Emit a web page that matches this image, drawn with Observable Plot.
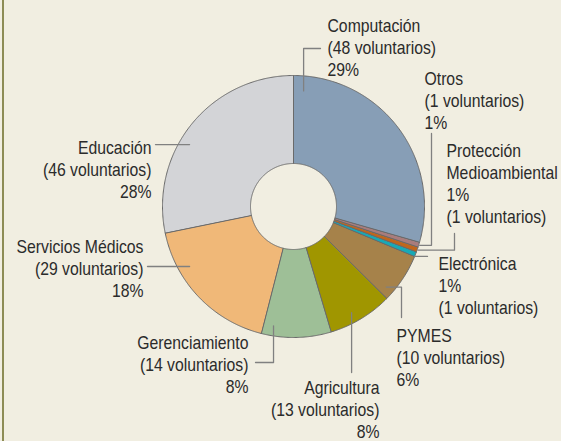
<!DOCTYPE html>
<html><head><meta charset="utf-8">
<script src="https://cdn.jsdelivr.net/npm/d3@7"></script>
<script src="https://cdn.jsdelivr.net/npm/@observablehq/plot@0.6"></script>
<style>
html,body{margin:0;padding:0;background:#f1eee1;}
#wrap{position:relative;width:561px;height:441px;overflow:hidden;background:#f1eee1;}
#rule{position:absolute;left:2px;top:0;width:2px;height:441px;background:#8d8c55;}
#wrap svg{position:absolute;left:0;top:0;}
</style></head><body><div id="wrap"><div id="rule"></div></div>
<script>
// ---- data ----
const categories = ["Computación","Otros","Protección Medioambiental","Electrónica","PYMES","Agricultura","Gerenciamiento","Servicios Médicos","Educación"];
const volunteers = [48, 1, 1, 1, 10, 13, 14, 29, 46];
const percentLabels = ["29%","1%","1%","1%","6%","8%","8%","18%","28%"];

// ---- styles ----
const palette = ["#879eb6","#a97c7c","#c0661c","#17a9b6","#a6824a","#a09600","#9ebf97","#f0b878","#d3d4d7"];
const FONT = "'Liberation Sans',Arimo,Arial,sans-serif";
const FS = 19;
const NARROW = 0.83; // condensed look

// ---- layout ----
const W = 561, H = 441;
const cx = 293, cy = 206, R = 131, R0 = 43;
const layout = {
  "Computación":              {a: 5,    rho: 116, path: [{y: 48}, {x: 320}], anchor: "start", x: 327, y: 75,  lines: "ncp"},
  "Otros":                    {a: null, rho: 132, path: [{x: 431}, {y: 133}], anchor: "start", x: 424, y: 128, lines: "ncp"},
  "Protección Medioambiental":{a: null, rho: 132, path: [{x: 454}, {y: 233}], anchor: "start", x: 446, y: 222, lines: "npc"},
  "Electrónica":              {a: 112.4,rho: 131, path: [{x: 427}],           anchor: "start", x: 438, y: 313, lines: "npc"},
  "PYMES":                    {a: 131,  rho: 123, path: [{x: 401}, {y: 317}], anchor: "start", x: 396, y: 385, lines: "ncp"},
  "Agricultura":              {a: 151.3,rho: 121, path: [{y: 372}],           anchor: "end",   x: 379, y: 437, lines: "ncp"},
  "Gerenciamiento":           {a: 189.5,rho: 121, path: [{y: 362}, {x: 255}], anchor: "end",   x: 248, y: 392, lines: "ncp"},
  "Servicios Médicos":        {a: 240,  rho: 120, path: [{x: 147}],           anchor: "end",   x: 143, y: 296, lines: "ncp"},
  "Educación":                {a: 300.8,rho: 121, path: [{x: 155}],           anchor: "end",   x: 151, y: 197, lines: "ncp"}
};

const pie = d3.pie().sort(null).value(d => d.v).startAngle(0).endAngle(2 * Math.PI);
const arcs = pie(categories.map((name, i) => ({name, v: volunteers[i], pct: percentLabels[i]})));
const pt = (theta, rho) => [cx + rho * Math.sin(theta), cy - rho * Math.cos(theta)];

// slice polygons
const sliceRows = [];
for (const a of arcs) {
  const n = Math.max(2, Math.ceil((a.endAngle - a.startAngle) / (Math.PI / 360)));
  for (let k = 0; k <= n; k++) {
    const t = a.startAngle + (a.endAngle - a.startAngle) * k / n;
    const [x, y] = pt(t, R);
    sliceRows.push({name: a.data.name, x, y});
  }
  for (let k = n; k >= 0; k--) {
    const t = a.startAngle + (a.endAngle - a.startAngle) * k / n;
    const [x, y] = pt(t, R0);
    sliceRows.push({name: a.data.name, x, y});
  }
}

// leader lines and labels
const leaderRows = [];
const labelRows = [];
for (const a of arcs) {
  const L = layout[a.data.name];
  const theta = L.a == null ? (a.startAngle + a.endAngle) / 2 : L.a * Math.PI / 180;
  let [x, y] = pt(theta, L.rho);
  leaderRows.push({name: a.data.name, x, y});
  for (const step of L.path) {
    if (step.x != null) x = step.x;
    if (step.y != null) y = step.y;
    leaderRows.push({name: a.data.name, x, y});
  }
  const nameText = a.data.name === "Protección Medioambiental" ? "Protección\nMedioambiental" : a.data.name;
  const countText = `(${a.data.v} voluntarios)`;
  const text = L.lines === "ncp" ? [nameText, countText, a.data.pct].join("\n") : [nameText, a.data.pct, countText].join("\n");
  labelRows.push({name: a.data.name, x: L.x, y: L.y, text, anchor: L.anchor});
}

const chart = Plot.plot({
  width: W, height: H,
  margin: 0,
  style: {background: "transparent", fontFamily: FONT, overflow: "visible"},
  x: {domain: [0, W], range: [0, W], axis: null},
  y: {domain: [0, H], range: [0, H], axis: null},
  color: {domain: categories, range: palette},
  marks: [
    Plot.line(sliceRows, {x: "x", y: "y", z: "name", fill: "name", stroke: "#6a6a6a", strokeWidth: 1, curve: "linear-closed"}),
    Plot.line(leaderRows, {x: "x", y: "y", z: "name", stroke: "#808080", strokeWidth: 1.3}),
    Plot.text(labelRows.filter(d => d.anchor === "start"), {x: "x", y: "y", text: "text", textAnchor: "start", lineAnchor: "bottom", lineHeight: 22 / FS, fontSize: FS, fill: "#2b2b2b"}),
    Plot.text(labelRows.filter(d => d.anchor === "end"), {x: "x", y: "y", text: "text", textAnchor: "end", lineAnchor: "bottom", lineHeight: 22 / FS, fontSize: FS, fill: "#2b2b2b"})
  ]
});

// condense label glyphs horizontally around each text's anchor
chart.querySelectorAll("g[aria-label='text'] text").forEach(t => {
  const tr = t.getAttribute("transform");
  if (tr) {
    t.setAttribute("transform", tr + ` scale(${NARROW},1)`);
  } else {
    const x = +t.getAttribute("x") || 0;
    t.setAttribute("transform", `translate(${x},0) scale(${NARROW},1) translate(${-x},0)`);
  }
});
document.getElementById("wrap").appendChild(chart);
</script>
</body></html>
